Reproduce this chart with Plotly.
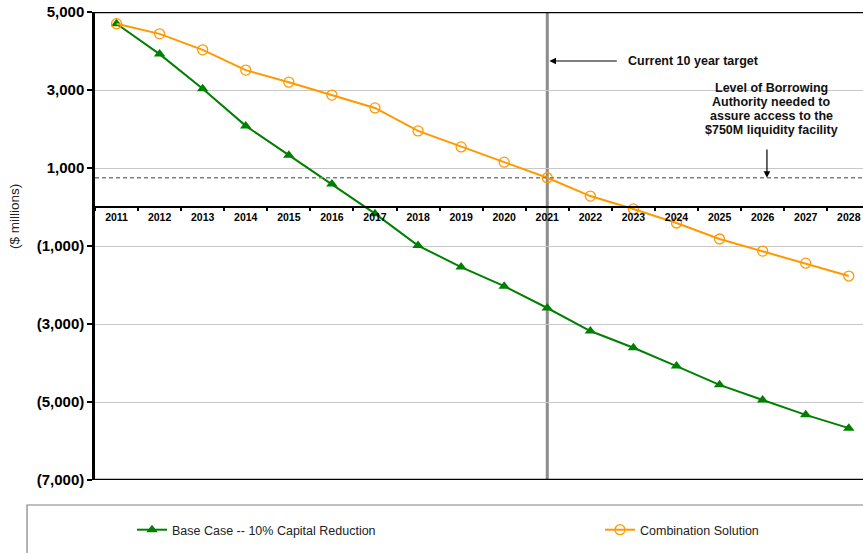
import plotly.graph_objects as go

# Fiscal years on the category axis
years = [str(y) for y in range(2011, 2029)]

# Projected borrowing headroom, $ millions
base_case = [4700, 3920, 3030, 2080, 1330, 590, -170, -990, -1540, -2030,
             -2590, -3180, -3610, -4080, -4560, -4950, -5330, -5670]
combination = [4700, 4440, 4030, 3510, 3200, 2870, 2540, 1950, 1540, 1150,
               750, 280, -50, -410, -820, -1130, -1440, -1770]

# Y ticks with accounting-style negatives
y_ticks = [5000, 3000, 1000, -1000, -3000, -5000, -7000]
y_tick_text = ["5,000", "3,000", "1,000", "(1,000)", "(3,000)", "(5,000)", "(7,000)"]

liquidity_level = 750
target_year_idx = 10  # 2021

note_lines = ["Level of Borrowing", "Authority needed to",
              "assure access to the", "$750M liquidity facility"]

FONT = "Liberation Sans, Arial, sans-serif"
GREEN = "#008000"
ORANGE = "#FF9900"

fig = go.Figure()

fig.add_trace(go.Scatter(
    x=years, y=base_case, mode="lines+markers",
    name="Base Case -- 10% Capital Reduction",
    line=dict(color=GREEN, width=2),
    marker=dict(symbol="triangle-up", size=10, color=GREEN),
    legend="legend", showlegend=True,
))
fig.add_trace(go.Scatter(
    x=years, y=combination, mode="lines+markers",
    name="Combination Solution",
    line=dict(color=ORANGE, width=2),
    marker=dict(symbol="circle-open", size=10, color=ORANGE, line=dict(width=1.3)),
    legend="legend2", showlegend=True,
))

x_lo, x_hi = -0.5, 17.33
y_lo, y_hi = -7000, 5000

shapes = [
    # 10-year target marker
    dict(type="line", xref="x", yref="y", x0=target_year_idx, x1=target_year_idx,
         y0=y_lo, y1=y_hi, line=dict(color="#8c8c8c", width=3), layer="below"),
    # liquidity facility threshold
    dict(type="line", xref="paper", yref="y", x0=0, x1=1,
         y0=liquidity_level, y1=liquidity_level,
         line=dict(color="#808080", width=1.5, dash="4px,3px")),
    # top and bottom frame of plot area
    dict(type="line", xref="paper", yref="y", x0=0, x1=1, y0=y_hi, y1=y_hi,
         line=dict(color="black", width=2.5)),
    dict(type="line", xref="paper", yref="y", x0=0, x1=1, y0=y_lo, y1=y_lo,
         line=dict(color="black", width=2.5)),
    # legend frame
    dict(type="rect", xref="paper", yref="paper", x0=-0.0885, x1=1.05,
         y0=-0.0534, y1=-0.3, line=dict(color="#808080", width=1.2)),
]

annotations = [
    dict(text="($ millions)", xref="paper", yref="paper", x=-0.104, y=0.562,
         textangle=-90, showarrow=False, font=dict(family=FONT, size=13.5, color="#222"),
         xanchor="center", yanchor="middle"),
    # arrow to the target-year line
    dict(x=10.05, y=3744, ax=11.65, ay=3744, xref="x", yref="y", axref="x", ayref="y",
         text="", showarrow=True, arrowhead=2, arrowsize=1.1, arrowwidth=1.2,
         arrowcolor="black"),
    dict(x=11.83, y=3744, xref="x", yref="y", text="<b>Current 10 year target</b>",
         showarrow=False, xanchor="left", yanchor="middle",
         font=dict(family=FONT, size=12.5, color="#111")),
    # arrow down to the liquidity line
    dict(x=15.1, y=liquidity_level, ax=15.1, ay=1510, xref="x", yref="y",
         axref="x", ayref="y", text="", showarrow=True, arrowhead=2,
         arrowsize=1.1, arrowwidth=1.2, arrowcolor="black"),
]
for i, line in enumerate(note_lines):
    annotations.append(dict(
        x=15.2, y=(207 - (88 + 14 * i)) / 39 * 1000, xref="x", yref="y",
        text=f"<b>{line}</b>", showarrow=False, xanchor="center", yanchor="middle",
        font=dict(family=FONT, size=12.5, color="#111")))

legend_style = dict(y=-0.107, xanchor="left", yanchor="middle",
                    orientation="h", bgcolor="rgba(0,0,0,0)",
                    font=dict(family=FONT, size=12.5, color="#222"))

fig.update_layout(
    width=863, height=553,
    margin=dict(l=95, r=0, t=12, b=73),
    paper_bgcolor="white", plot_bgcolor="white",
    font=dict(family=FONT, color="black"),
    showlegend=True,
    shapes=shapes, annotations=annotations,
    legend=dict(x=(132 - 95) / 768, **legend_style),
    legend2=dict(x=(600 - 95) / 768, **legend_style),
    xaxis=dict(
        type="category", range=[x_lo, x_hi],
        anchor="free", position=(0 - y_lo) / (y_hi - y_lo),
        showline=True, linecolor="black", linewidth=2,
        ticks="outside", tickson="boundaries", ticklen=3, tickwidth=2,
        tickcolor="black", showgrid=False,
        tickfont=dict(family=FONT, size=10.5, color="black", weight="bold"),
    ),
    yaxis=dict(
        range=[y_lo, y_hi], tickvals=y_ticks, ticktext=y_tick_text,
        showline=True, linecolor="black", linewidth=2.5,
        ticks="outside", ticklen=5, tickwidth=2, tickcolor="black",
        showgrid=True, gridcolor="#c8c8c8", gridwidth=1, zeroline=False,
        tickfont=dict(family=FONT, size=15, color="black", weight="bold"),
    ),
)

fig.write_html("out.html")
